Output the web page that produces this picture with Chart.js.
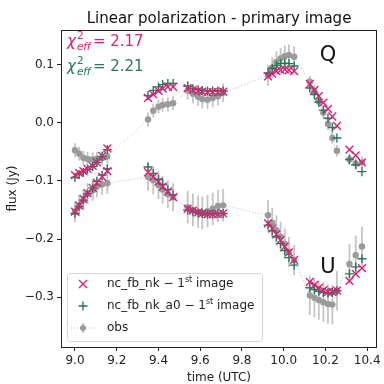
<!DOCTYPE html>
<html>
<head>
<meta charset="utf-8">
<script src="https://cdn.jsdelivr.net/npm/chart.js@4.4.0/dist/chart.umd.min.js"></script>
<style>
  html, body { margin: 0; padding: 0; background: #fff; }
  canvas { display: block; }
</style>
</head>
<body>
<canvas id="myChart" width="384" height="384" style="width:384px;height:384px"></canvas>
<script>
// observation times (UTC hours), same for Q and U
const times = [
  9.00, 9.02, 9.04, 9.06, 9.085, 9.105, 9.13, 9.155,
  9.35, 9.375, 9.40, 9.42, 9.445, 9.47,
  9.54, 9.565, 9.59, 9.61, 9.635, 9.66, 9.685, 9.71,
  9.925, 9.945, 9.965, 9.985, 10.005, 10.025, 10.05,
  10.125, 10.147, 10.168, 10.19, 10.212, 10.233, 10.255,
  10.315, 10.345, 10.375
];
// observed Q and U with errors
const qObs = [
  -0.047, -0.053, -0.060, -0.062, -0.063, -0.062, -0.061, -0.058,
  0.006, 0.021, 0.028, 0.031, 0.032, 0.034,
  0.056, 0.050, 0.045, 0.041, 0.040, 0.043, 0.046, 0.052,
  0.082, 0.095, 0.105, 0.111, 0.115, 0.117, 0.114,
  0.071, 0.055, 0.037, 0.018, -0.002, -0.026, -0.048,
  -0.063, -0.070, -0.068
];
const qErr = [
  0.012, 0.012, 0.012, 0.012, 0.012, 0.012, 0.012, 0.012,
  0.012, 0.012, 0.012, 0.012, 0.012, 0.012,
  0.016, 0.016, 0.016, 0.016, 0.016, 0.016, 0.016, 0.016,
  0.018, 0.018, 0.018, 0.018, 0.018, 0.018, 0.018,
  0.010, 0.010, 0.010, 0.010, 0.010, 0.010, 0.010,
  0.010, 0.010, 0.010
];
const uObs = [
  -0.153, -0.143, -0.133, -0.122, -0.116, -0.110, -0.106, -0.104,
  -0.093, -0.099, -0.107, -0.115, -0.123, -0.128,
  -0.145, -0.150, -0.153, -0.155, -0.152, -0.148, -0.143, -0.142,
  -0.159, -0.172, -0.185, -0.196, -0.208, -0.222, -0.236,
  -0.297, -0.301, -0.305, -0.309, -0.312, -0.313, -0.289,
  -0.243, -0.228, -0.213
];
const uErr = [
  0.018, 0.018, 0.018, 0.018, 0.018, 0.018, 0.018, 0.018,
  0.024, 0.024, 0.024, 0.024, 0.024, 0.024,
  0.028, 0.028, 0.028, 0.028, 0.028, 0.028, 0.028, 0.028,
  0.026, 0.026, 0.026, 0.026, 0.026, 0.026, 0.026,
  0.034, 0.034, 0.034, 0.034, 0.034, 0.034, 0.034,
  0.034, 0.034, 0.034
];
// model nc_fb_nk
const qNk = [
  -0.090, -0.086, -0.083, -0.079, -0.074, -0.068, -0.057, -0.044,
  0.043, 0.049, 0.055, 0.059, 0.062, 0.062,
  0.060, 0.057, 0.055, 0.054, 0.053, 0.053, 0.053, 0.054,
  0.080, 0.085, 0.089, 0.091, 0.092, 0.091, 0.089,
  0.067, 0.057, 0.046, 0.035, 0.024, 0.011, -0.005,
  -0.046, -0.056, -0.068
];
const uNk = [
  -0.153, -0.142, -0.131, -0.121, -0.112, -0.103, -0.093, -0.083,
  -0.085, -0.093, -0.101, -0.110, -0.118, -0.128,
  -0.148, -0.151, -0.154, -0.156, -0.157, -0.157, -0.157, -0.156,
  -0.173, -0.182, -0.192, -0.202, -0.213, -0.223, -0.236,
  -0.274, -0.279, -0.284, -0.288, -0.291, -0.291, -0.289,
  -0.272, -0.260, -0.250
];
// model nc_fb_nk_a0
const qA0 = [
  -0.094, -0.089, -0.085, -0.080, -0.075, -0.068, -0.058, -0.046,
  0.047, 0.056, 0.062, 0.066, 0.068, 0.068,
  0.063, 0.059, 0.057, 0.056, 0.055, 0.055, 0.055, 0.055,
  0.086, 0.094, 0.099, 0.102, 0.103, 0.102, 0.098,
  0.060, 0.049, 0.036, 0.022, 0.008, -0.008, -0.026,
  -0.063, -0.072, -0.084
];
const uA0 = [
  -0.156, -0.144, -0.133, -0.122, -0.112, -0.101, -0.090, -0.079,
  -0.076, -0.087, -0.097, -0.106, -0.115, -0.124,
  -0.150, -0.153, -0.155, -0.156, -0.157, -0.157, -0.156, -0.156,
  -0.176, -0.186, -0.196, -0.208, -0.220, -0.232, -0.245,
  -0.284, -0.287, -0.290, -0.292, -0.293, -0.292, -0.289,
  -0.260, -0.248, -0.234
];
const xTicks = [9.0, 9.2, 9.4, 9.6, 9.8, 10.0, 10.2, 10.4];
const yTicks = [-0.3, -0.2, -0.1, 0.0, 0.1];
const chiNk = '2.17';
const chiA0 = '2.21';

const pink = '#dc1f78';
const green = '#267a55';
const obsGray = '#9a9a9a';
const font = 'DejaVu Sans';

function pts(vals) {
  return times.map((t, i) => ({ x: t, y: vals[i] }));
}

// error bars, frame, texts and legend
const deco = {
  id: 'deco',
  beforeDatasetsDraw(chart) {
    const ctx = chart.ctx, xs = chart.scales.x, ys = chart.scales.y, a = chart.chartArea;
    ctx.save();
    ctx.beginPath();
    ctx.rect(a.left, a.top, a.right - a.left, a.bottom - a.top);
    ctx.clip();
    ctx.strokeStyle = '#c4c4c4';
    ctx.lineWidth = 1.8;
    [[qObs, qErr], [uObs, uErr]].forEach(([v, e]) => {
      times.forEach((t, i) => {
        const x = xs.getPixelForValue(t);
        ctx.beginPath();
        ctx.moveTo(x, ys.getPixelForValue(v[i] - e[i]));
        ctx.lineTo(x, ys.getPixelForValue(v[i] + e[i]));
        ctx.stroke();
      });
    });
    ctx.restore();
  },
  afterDraw(chart) {
    const ctx = chart.ctx, a = chart.chartArea;
    ctx.save();
    // frame
    ctx.strokeStyle = '#222';
    ctx.lineWidth = 1;
    ctx.strokeRect(a.left + 0.5, a.top + 0.5, a.right - a.left - 1, a.bottom - a.top);
    // title
    ctx.fillStyle = '#111';
    ctx.textAlign = 'center';
    ctx.textBaseline = 'alphabetic';
    ctx.font = '15px ' + font;
    ctx.fillText('Linear polarization - primary image', (a.left + a.right) / 2, 23);
    // axis titles
    ctx.font = '12px ' + font;
    ctx.fillStyle = '#222';
    ctx.fillText('time (UTC)', (a.left + a.right) / 2, 381);
    ctx.save();
    ctx.translate(16, (a.top + a.bottom) / 2);
    ctx.rotate(-Math.PI / 2);
    ctx.fillText('flux (Jy)', 0, 0);
    ctx.restore();
    // chi^2 labels
    function chi(txt, col, x, y) {
      ctx.fillStyle = col;
      ctx.textAlign = 'left';
      ctx.font = 'italic 15px ' + font;
      ctx.fillText('χ', x, y);
      const w = ctx.measureText('χ').width;
      ctx.font = '10.5px ' + font;
      ctx.fillText('2', x + w + 1, y - 7);
      ctx.font = 'italic 10.5px ' + font;
      ctx.fillText('eff', x + w + 1, y + 4);
      const ws = ctx.measureText('eff').width;
      ctx.font = '15px ' + font;
      ctx.fillText('= ' + txt, x + w + ws + 3, y);
    }
    chi(chiNk, pink, 67, 46);
    chi(chiA0, green, 67, 71);
    // Q / U labels
    ctx.fillStyle = '#111';
    ctx.textAlign = 'center';
    ctx.font = '21px ' + font;
    ctx.fillText('Q', 328, 61);
    ctx.fillText('U', 328, 273);
    // legend
    const lx = 67, ly = 273, lw = 195, lh = 68;
    ctx.fillStyle = 'rgba(255,255,255,0.8)';
    ctx.strokeStyle = '#d6d6d6';
    ctx.lineWidth = 1;
    ctx.beginPath();
    ctx.roundRect(lx + 0.5, ly + 0.5, lw, lh, 3);
    ctx.fill();
    ctx.stroke();
    const mx = 83, tx = 107;
    const rows = [284, 306, 328];
    // markers
    ctx.lineWidth = 1.4;
    ctx.strokeStyle = pink;
    ctx.beginPath();
    ctx.moveTo(mx - 4, rows[0] - 4); ctx.lineTo(mx + 4, rows[0] + 4);
    ctx.moveTo(mx - 4, rows[0] + 4); ctx.lineTo(mx + 4, rows[0] - 4);
    ctx.stroke();
    ctx.strokeStyle = green;
    ctx.beginPath();
    ctx.moveTo(mx - 4.5, rows[1]); ctx.lineTo(mx + 4.5, rows[1]);
    ctx.moveTo(mx, rows[1] - 4.5); ctx.lineTo(mx, rows[1] + 4.5);
    ctx.stroke();
    ctx.strokeStyle = '#bbb';
    ctx.lineWidth = 1;
    ctx.setLineDash([1, 2]);
    ctx.beginPath();
    ctx.moveTo(mx - 12, rows[2]); ctx.lineTo(mx + 12, rows[2]);
    ctx.stroke();
    ctx.setLineDash([]);
    ctx.strokeStyle = '#c4c4c4';
    ctx.lineWidth = 1.8;
    ctx.beginPath();
    ctx.moveTo(mx, rows[2] - 5); ctx.lineTo(mx, rows[2] + 5);
    ctx.stroke();
    ctx.fillStyle = obsGray;
    ctx.beginPath();
    ctx.arc(mx, rows[2], 3, 0, Math.PI * 2);
    ctx.fill();
    // texts
    ctx.fillStyle = '#222';
    ctx.textAlign = 'left';
    ctx.textBaseline = 'middle';
    function entry(a, y) {
      ctx.font = '12px ' + font;
      ctx.fillText(a, tx, y);
      let x = tx + ctx.measureText(a).width;
      ctx.font = '8px ' + font;
      ctx.fillText('st', x, y - 4);
      x += ctx.measureText('st').width;
      ctx.font = '12px ' + font;
      ctx.fillText(' image', x, y);
    }
    entry('nc_fb_nk − 1', rows[0]);
    entry('nc_fb_nk_a0 − 1', rows[1]);
    ctx.font = '12px ' + font;
    ctx.fillText('obs', tx, rows[2]);
    ctx.restore();
  }
};

let myChart = new Chart(document.getElementById('myChart').getContext('2d'), {
  type: 'scatter',
  data: {
    datasets: [
      {
        label: 'nc_fb_nk',
        data: pts(qNk).concat(pts(uNk)),
        pointStyle: 'crossRot',
        pointRadius: 5.5,
        borderColor: pink,
        backgroundColor: pink,
        pointBorderWidth: 1.4
      },
      {
        label: 'nc_fb_nk_a0',
        data: pts(qA0).concat(pts(uA0)),
        pointStyle: 'cross',
        pointRadius: 4.5,
        borderColor: green,
        backgroundColor: green,
        pointBorderWidth: 1.4
      },
      {
        label: 'obs Q',
        data: pts(qObs),
        showLine: true,
        borderColor: '#bbb',
        borderWidth: 1,
        borderDash: [1, 2],
        pointRadius: 3.2,
        pointBackgroundColor: obsGray,
        pointBorderColor: obsGray,
        pointBorderWidth: 0
      },
      {
        label: 'obs U',
        data: pts(uObs),
        showLine: true,
        borderColor: '#bbb',
        borderWidth: 1,
        borderDash: [1, 2],
        pointRadius: 3.2,
        pointBackgroundColor: obsGray,
        pointBorderColor: obsGray,
        pointBorderWidth: 0
      }
    ]
  },
  options: {
    responsive: false,
    animation: false,
    devicePixelRatio: 1,
    layout: { padding: { left: 0, top: 30, right: 7, bottom: 0 } },
    plugins: {
      legend: { display: false },
      tooltip: { enabled: false },
      title: { display: false }
    },
    scales: {
      x: {
        type: 'linear',
        min: 8.933,
        max: 10.447,
        afterBuildTicks: s => { s.ticks = xTicks.map(v => ({ value: v })); },
        afterFit: s => { s.height = 37; },
        grid: { drawOnChartArea: false, tickLength: 4, color: '#222' },
        border: { display: false },
        ticks: {
          color: '#222',
          padding: 3,
          maxRotation: 0,
          font: { family: font, size: 12 },
          callback: v => v.toFixed(1)
        }
      },
      y: {
        type: 'linear',
        min: -0.386,
        max: 0.160,
        afterBuildTicks: s => { s.ticks = yTicks.map(v => ({ value: v })); },
        afterFit: s => { s.width = 61; },
        grid: { drawOnChartArea: false, tickLength: 4, color: '#222' },
        border: { display: false },
        ticks: {
          color: '#222',
          padding: 3,
          font: { family: font, size: 12 },
          callback: v => (v < -1e-9 ? '−' + Math.abs(v).toFixed(1) : Math.abs(v).toFixed(1))
        }
      }
    }
  },
  plugins: [deco]
});
</script>
</body>
</html>
